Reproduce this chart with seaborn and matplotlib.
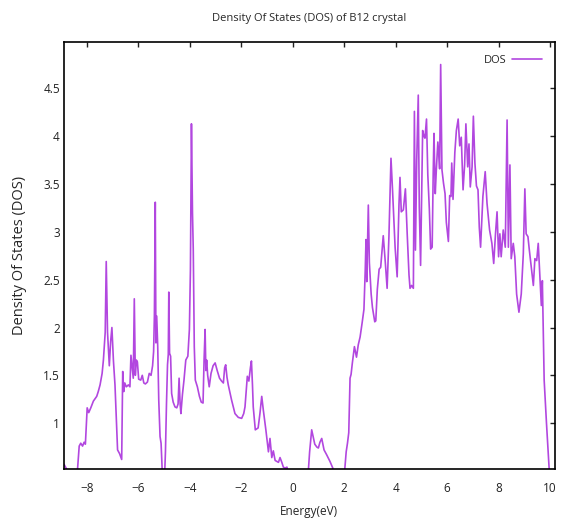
import numpy as np
import pandas as pd
import seaborn as sns
import matplotlib.pyplot as plt
from matplotlib.ticker import FormatStrFormatter

# energy (eV) and density of states
energy = [-8.88, -8.78, -8.70, -8.45, -8.36, -8.29, -8.23, -8.16, -8.10, -8.05,
          -7.98, -7.92, -7.84, -7.74, -7.61, -7.55, -7.48, -7.40, -7.35, -7.28,
          -7.24, -7.19, -7.12, -7.07, -7.02, -6.96, -6.90, -6.86, -6.80, -6.72,
          -6.64, -6.60, -6.56, -6.52, -6.46, -6.38, -6.32, -6.28, -6.22, -6.19,
          -6.15, -6.11, -6.07, -6.03, -5.98, -5.90, -5.84, -5.78, -5.72, -5.64,
          -5.57, -5.50, -5.44, -5.40, -5.37, -5.335, -5.31, -5.28, -5.24, -5.20,
          -5.15, -5.11, -5.08, -5.04, -4.98, -4.94, -4.90, -4.86, -4.83, -4.81,
          -4.78, -4.74, -4.70, -4.64, -4.57, -4.50, -4.45, -4.41, -4.37, -4.34,
          -4.28, -4.22, -4.15, -4.07, -4.01, -3.97, -3.93, -3.89, -3.86, -3.82,
          -3.78, -3.70, -3.62, -3.55, -3.48, -3.44, -3.40, -3.37, -3.34, -3.30,
          -3.24, -3.17, -3.09, -3.01, -2.93, -2.84, -2.76, -2.69, -2.64, -2.60,
          -2.55, -2.50, -2.37, -2.24, -2.11, -1.98, -1.90, -1.85, -1.76, -1.70,
          -1.64, -1.60, -1.56, -1.53, -1.45, -1.34, -1.27, -1.20, -1.14, -1.04,
          -0.94, -0.88, -0.81, -0.75, -0.68, -0.55, -0.49, -0.42, -0.36, -0.29,
          -0.22, -0.17, -0.10, 0.50, 0.61, 0.66, 0.70, 0.74, 0.78, 0.86,
          0.94, 1.00, 1.06, 1.13, 1.22, 1.32, 1.45, 1.56, 1.62, 1.90,
          2.02, 2.08, 2.13, 2.18, 2.23, 2.27, 2.32, 2.40, 2.48, 2.55,
          2.62, 2.70, 2.77, 2.82, 2.85, 2.88, 2.91, 2.94, 2.98, 3.05,
          3.10, 3.19, 3.23, 3.29, 3.36, 3.42, 3.52, 3.60, 3.67, 3.74,
          3.82, 3.88, 3.98, 4.06, 4.13, 4.17, 4.22, 4.30, 4.38, 4.45,
          4.52, 4.56, 4.62, 4.69, 4.73, 4.77, 4.82, 4.88, 4.92, 4.97,
          5.02, 5.05, 5.10, 5.14, 5.20, 5.25, 5.31, 5.36, 5.42, 5.46,
          5.49, 5.54, 5.58, 5.64, 5.68, 5.71, 5.75, 5.80, 5.86, 5.92,
          5.97, 6.05, 6.10, 6.15, 6.18, 6.23, 6.30, 6.36, 6.43, 6.49,
          6.55, 6.62, 6.68, 6.73, 6.80, 6.85, 6.90, 6.97, 7.02, 7.08,
          7.14, 7.20, 7.25, 7.30, 7.39, 7.48, 7.55, 7.65, 7.74, 7.81,
          7.88, 7.94, 8.00, 8.05, 8.10, 8.18, 8.26, 8.33, 8.38, 8.44,
          8.49, 8.57, 8.63, 8.70, 8.79, 8.88, 8.96, 9.02, 9.07, 9.14,
          9.19, 9.27, 9.35, 9.41, 9.48, 9.54, 9.61, 9.66, 9.70, 9.77,
          9.86, 9.96, 10.00, 10.19]
dos = [0.57, 0.52, 0.30, 0.30, 0.50, 0.76, 0.79, 0.76, 0.80, 0.78,
       1.16, 1.11, 1.16, 1.23, 1.28, 1.33, 1.40, 1.52, 1.66, 1.95,
       2.69, 1.95, 1.60, 1.85, 2.00, 1.65, 1.40, 1.13, 0.72, 0.68,
       0.62, 1.54, 1.33, 1.42, 1.38, 1.40, 1.38, 1.71, 1.55, 1.47,
       2.30, 1.50, 1.66, 1.64, 1.46, 1.45, 1.50, 1.42, 1.41, 1.43,
       1.52, 1.50, 1.60, 1.75, 2.12, 3.31, 1.84, 2.12, 1.80, 1.24,
       0.86, 0.79, 0.60, 0.30, 0.40, 0.70, 1.20, 1.61, 1.72, 2.37,
       1.73, 1.70, 1.31, 1.22, 1.17, 1.16, 1.20, 1.47, 1.20, 1.10,
       1.30, 1.45, 1.66, 1.70, 1.98, 2.60, 4.13, 3.20, 2.82, 1.80,
       1.45, 1.38, 1.28, 1.22, 1.21, 1.66, 1.98, 1.55, 1.66, 1.50,
       1.38, 1.52, 1.60, 1.63, 1.55, 1.47, 1.44, 1.42, 1.58, 1.61,
       1.48, 1.40, 1.24, 1.10, 1.06, 1.05, 1.10, 1.17, 1.49, 1.44,
       1.58, 1.65, 1.40, 1.17, 0.93, 0.95, 1.10, 1.28, 1.14, 0.93,
       0.70, 0.84, 0.64, 0.71, 0.61, 0.59, 0.64, 0.59, 0.54, 0.53,
       0.54, 0.45, 0.30, 0.30, 0.50, 0.70, 0.82, 0.93, 0.88, 0.78,
       0.75, 0.74, 0.80, 0.84, 0.72, 0.67, 0.60, 0.53, 0.40, 0.30,
       0.50, 0.70, 0.79, 0.90, 1.47, 1.51, 1.63, 1.80, 1.69, 1.82,
       1.90, 2.05, 2.19, 2.60, 2.92, 2.48, 2.90, 3.28, 2.68, 2.35,
       2.21, 2.06, 2.07, 2.40, 2.61, 2.63, 2.96, 2.68, 2.41, 2.95,
       3.77, 3.44, 2.84, 2.53, 3.28, 3.57, 3.21, 3.23, 3.45, 2.98,
       2.55, 2.41, 2.44, 2.41, 4.26, 2.81, 3.75, 4.43, 3.26, 2.65,
       3.50, 4.06, 4.00, 3.98, 4.18, 3.60, 3.24, 2.82, 2.84, 3.61,
       4.03, 3.40, 3.64, 3.94, 3.80, 3.66, 4.75, 3.65, 3.51, 3.40,
       3.10, 2.90, 3.38, 3.37, 3.72, 3.34, 3.83, 4.06, 4.18, 3.90,
       3.99, 3.44, 3.70, 4.13, 3.68, 3.92, 3.47, 3.68, 4.21, 3.72,
       3.48, 3.44, 3.05, 2.84, 3.37, 3.63, 3.30, 3.02, 2.88, 2.67,
       2.98, 3.21, 2.74, 2.98, 2.74, 3.02, 2.84, 4.17, 2.84, 3.70,
       2.72, 2.88, 2.74, 2.35, 2.16, 2.35, 2.77, 3.45, 2.98, 2.95,
       2.82, 2.63, 2.44, 2.72, 2.70, 2.88, 2.51, 2.23, 2.49, 1.45,
       1.00, 0.54, 0.40, 0.30]

xticks = [-8, -6, -4, -2, 0, 2, 4, 6, 8, 10]
yticks = [1, 1.5, 2, 2.5, 3, 3.5, 4, 4.5]

df = pd.DataFrame({'Energy(eV)': energy, 'DOS': dos})

sns.set_style("white")
plt.rcParams['font.family'] = ['Open Sans', 'DejaVu Sans']

fig = plt.figure(figsize=(5.64, 5.20), dpi=100)
ax = fig.add_axes([0.1135, 0.098, 0.8705, 0.822])

sns.lineplot(data=df, x='Energy(eV)', y='DOS', ax=ax, color='#9400d3',
             linewidth=1.2, alpha=0.72, label='DOS', sort=False)

ax.set_xlim(-8.88, 10.19)
ax.set_ylim(0.52, 4.99)
ax.set_xticks(xticks)
ax.set_yticks(yticks)
ax.yaxis.set_major_formatter(FormatStrFormatter('%g'))
ax.tick_params(direction='in', top=True, right=True, length=3.6, width=1,
               labelsize=8.5, colors='#222222')
ax.tick_params(axis='x', pad=9)
ax.tick_params(axis='y', pad=3)
for s in ax.spines.values():
    s.set_color('black')
    s.set_linewidth(1.2)

ax.set_title('Density Of States (DOS) of B12 crystal', fontsize=8, pad=15)
ax.set_xlabel('Energy(eV)', fontsize=8.5)
ax.set_ylabel('Density Of States (DOS)', fontsize=10.5)
ax.xaxis.set_label_coords(0.499, -0.084)
ax.yaxis.set_label_coords(-0.075, 0.5)

ax.legend(loc='upper right', frameon=False, markerfirst=False, fontsize=8,
          handlelength=2.7, handletextpad=0.5, borderaxespad=0.77)

plt.savefig('out.png', dpi=100)
